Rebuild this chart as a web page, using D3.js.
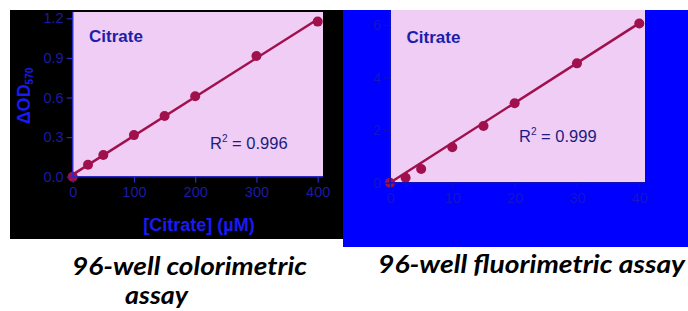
<!DOCTYPE html>
<html>
<head>
<meta charset="utf-8">
<script src="https://cdn.jsdelivr.net/npm/d3@7"></script>
<style>
  body { margin: 0; background: #ffffff; }
  svg { display: block; }
  text { font-family: "Liberation Sans", Arial, sans-serif; }
</style>
</head>
<body>
<script>
    // colorimetric panel data
    var coloConc = [0, 25, 50, 100, 150, 200, 300, 400];
    var coloOD = [0, 0.09, 0.165, 0.315, 0.46, 0.61, 0.915, 1.175];
    var coloXTicks = [0, 100, 200, 300, 400];
    var coloYTicks = [0, 0.3, 0.6, 0.9, 1.2];

    // fluorimetric panel data
    var fluoConc = [0, 2.5, 5, 10, 15, 20, 30, 40];
    var fluoSignal = [0, 0.19, 0.52, 1.35, 2.16, 3.02, 4.54, 6.06];
    var fluoXTicks = [0, 10, 20, 30, 40];
    var fluoYTicks = [0, 2, 4, 6];

    var panelTitle = "Citrate";
    var coloR2 = "0.996";
    var fluoR2 = "0.999";

    var W = 688, H = 311;
    var markColor = "#a0104c";
    var pink = "#efcdf5";

    var svg = d3.select("body").append("svg")
        .attr("width", W)
        .attr("height", H);

    // backgrounds
    svg.append("rect").attr("x", 10).attr("y", 10).attr("width", 333).attr("height", 229).attr("fill", "#000000");
    svg.append("rect").attr("x", 343).attr("y", 10).attr("width", W - 343).attr("height", 237).attr("fill", "#0000ff");

    function fitLine(xs, ys) {
        var n = xs.length;
        var mx = d3.mean(xs), my = d3.mean(ys);
        var sxy = 0, sxx = 0;
        for (var i = 0; i < n; i++) {
            sxy += (xs[i] - mx) * (ys[i] - my);
            sxx += (xs[i] - mx) * (xs[i] - mx);
        }
        var slope = sxy / sxx;
        return { slope: slope, intercept: my - slope * mx };
    }

    function drawPanel(opt) {
        var g = svg.append("g");
        var x = d3.scaleLinear().domain(opt.xDomain).range(opt.xRange);
        var y = d3.scaleLinear().domain(opt.yDomain).range(opt.yRange);

        g.append("rect")
            .attr("x", opt.plot[0]).attr("y", opt.plot[1])
            .attr("width", opt.plot[2] - opt.plot[0])
            .attr("height", opt.plot[3] - opt.plot[1])
            .attr("fill", pink);

        // regression line
        var fit = fitLine(opt.xs, opt.ys);
        var x0 = opt.xDomain[0], x1 = d3.max(opt.xs);
        g.append("line")
            .attr("x1", x(x0)).attr("y1", y(Math.max(0, fit.intercept + fit.slope * x0)))
            .attr("x2", x(x1)).attr("y2", y(fit.intercept + fit.slope * x1))
            .attr("stroke", markColor)
            .attr("stroke-width", 2.5);

        g.selectAll("circle")
            .data(opt.xs.map(function(d, i) { return [d, opt.ys[i]]; }))
            .enter()
            .append("circle")
            .attr("cx", function(d) { return x(d[0]); })
            .attr("cy", function(d) { return y(d[1]); })
            .attr("r", 5)
            .attr("fill", markColor);

        var xAxis = g.append("g")
            .attr("transform", "translate(0," + opt.yRange[0] + ")")
            .call(d3.axisBottom(x).tickValues(opt.xTicks).tickSize(6).tickPadding(4));
        var yAxis = g.append("g")
            .attr("transform", "translate(" + opt.xRange[0] + ",0)")
            .call(d3.axisLeft(y).tickValues(opt.yTicks).tickFormat(opt.yFormat).tickSize(6).tickPadding(3));

        [xAxis, yAxis].forEach(function(a) {
            a.select(".domain").attr("stroke", opt.axisColor).attr("stroke-width", 1.5);
            a.selectAll(".tick line").attr("stroke", opt.axisColor).attr("stroke-width", 1.2);
            a.selectAll(".tick text")
                .attr("fill", opt.tickColor)
                .style("font-family", "'Liberation Sans', Arial, sans-serif")
                .style("font-size", "14.5px");
        });
        xAxis.select(".domain").attr("d", "M" + opt.xRange[0] + ",0H" + opt.plot[2]);
        yAxis.select(".domain").attr("d", "M0," + opt.yRange[0] + "V" + opt.plot[1]);

        g.append("text")
            .attr("x", opt.titlePos[0]).attr("y", opt.titlePos[1])
            .attr("fill", "#1e1ea8")
            .style("font-weight", "bold")
            .style("font-size", "17px")
            .text(panelTitle);

        var r2 = g.append("text")
            .attr("x", opt.r2Pos[0]).attr("y", opt.r2Pos[1])
            .attr("fill", "#1c1c80")
            .style("font-size", "16.5px");
        r2.append("tspan").text("R");
        r2.append("tspan").attr("dy", -7).style("font-size", "10px").text("2");
        r2.append("tspan").attr("dy", 7).text(" = " + opt.r2);

        return { x: x, y: y };
    }

    drawPanel({
        xs: coloConc, ys: coloOD,
        xDomain: [0, 400], xRange: [72.7, 317.7],
        yDomain: [0, 1.2], yRange: [176.7, 18.3],
        plot: [73, 12, 323, 177],
        xTicks: coloXTicks, yTicks: coloYTicks,
        yFormat: d3.format(".1f"),
        axisColor: "#2a2ac0", tickColor: "#1a1aa8",
        titlePos: [89, 42], r2Pos: [210, 149], r2: coloR2
    });

    drawPanel({
        xs: fluoConc, ys: fluoSignal,
        xDomain: [0, 40], xRange: [390, 639.3],
        yDomain: [0, 6], yRange: [182.7, 25],
        plot: [391, 10, 645, 183],
        xTicks: fluoXTicks, yTicks: fluoYTicks,
        yFormat: d3.format("d"),
        axisColor: "#1010b8", tickColor: "#1414cc",
        titlePos: [406.5, 43], r2Pos: [179 + 340, 142], r2: fluoR2
    });

    // axis titles of the colorimetric panel
    var yt = svg.append("text")
        .attr("transform", "translate(30,96) rotate(-90)")
        .attr("text-anchor", "middle")
        .attr("fill", "#1a1af5")
        .style("font-weight", "bold")
        .style("font-size", "18px");
    yt.append("tspan").text("\u0394OD");
    yt.append("tspan").attr("dy", 3).style("font-size", "10px").text("570");

    svg.append("text")
        .attr("x", 199).attr("y", 231)
        .attr("text-anchor", "middle")
        .attr("fill", "#1a1af5")
        .style("font-weight", "bold")
        .style("font-size", "18px")
        .text("[Citrate] (\u00b5M)");

    // captions
    var captions = [
        { text: "96-well colorimetric", x: 72, y: 275, len: 235 },
        { text: "assay", x: 125, y: 304, len: 63 },
        { text: "96-well fluorimetric assay", x: 378, y: 273, len: 307 }
    ];
    svg.selectAll(".caption")
        .data(captions)
        .enter()
        .append("text")
        .attr("class", "caption")
        .attr("x", function(d) { return d.x; })
        .attr("y", function(d) { return d.y; })
        .attr("textLength", function(d) { return d.len; })
        .attr("lengthAdjust", "spacingAndGlyphs")
        .attr("fill", "#000000")
        .style("font-family", "Lato, 'Open Sans', sans-serif")
        .style("font-weight", "bold")
        .style("font-style", "italic")
        .style("font-size", "25px")
        .text(function(d) { return d.text; });
</script>
</body>
</html>
